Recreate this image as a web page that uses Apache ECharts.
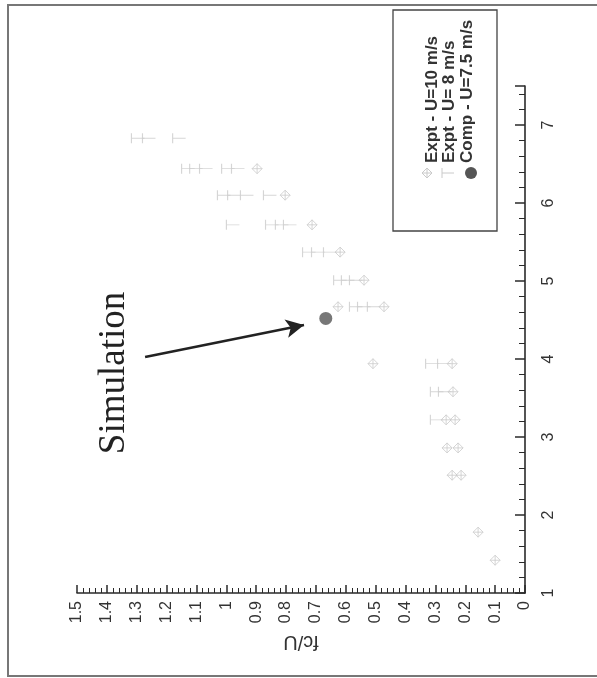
<!DOCTYPE html>
<html>
<head>
<meta charset="utf-8">
<script src="https://cdn.jsdelivr.net/npm/echarts@6/dist/echarts.min.js"></script>
<style>
html,body{margin:0;padding:0;background:#fff;}
#chart{width:597px;height:678px;}
</style>
</head>
<body>
<div id="chart"></div>
<script>
// X-variable (vertical axis in the rotated figure) and fc/U values
var u10X = [6.44, 6.10, 5.72, 5.37, 5.01, 4.67, 4.67, 3.94, 3.94, 3.58, 3.22, 3.22, 2.86, 2.86, 2.51, 2.51, 1.78, 1.42];
var u10F = [0.897, 0.803, 0.713, 0.619, 0.539, 0.626, 0.472, 0.509, 0.244, 0.241, 0.264, 0.234, 0.261, 0.224, 0.244, 0.214, 0.157, 0.100];
var u8X = [6.83, 6.83, 6.83, 6.44, 6.44, 6.44, 6.44, 6.44, 6.10, 6.10, 6.10, 6.10, 5.72, 5.72, 5.72, 5.72, 5.37, 5.37, 5.37, 5.01, 5.01, 5.01, 4.67, 4.67, 4.67, 3.94, 3.94, 3.58, 3.58, 3.22];
var u8F = [1.296, 1.259, 1.158, 1.128, 1.101, 1.068, 0.994, 0.961, 1.008, 0.974, 0.931, 0.854, 0.978, 0.847, 0.814, 0.787, 0.723, 0.693, 0.653, 0.619, 0.593, 0.566, 0.566, 0.539, 0.506, 0.311, 0.271, 0.295, 0.268, 0.295];
var compX = [4.52];
var compF = [0.667];
var seriesNames = ['Expt - U=10 m/s', 'Expt - U= 8 m/s', 'Comp - U=7.5 m/s'];
var fAxisName = 'fc/U';
var annotationText = 'Simulation';
var arrowFrom = [1.272, 4.026];
var arrowTo = [0.740, 4.436];

function zip(fs, xs) { return fs.map(function (f, i) { return [f, xs[i]]; }); }

var chart = echarts.init(document.getElementById('chart'), null, { renderer: 'canvas' });
var axisColor = '#2a2a2a';
var symColor = '#cacaca';
var labelFont = 'Liberation Sans';
var legendFont = 'bold 17px "Liberation Sans"';

var option = {
  backgroundColor: '#fff',
  animation: false,
  grid: { left: 77, right: 72, top: 86, bottom: 85 },
  xAxis: {
    type: 'value', min: 0, max: 1.5, interval: 0.1, inverse: true, position: 'bottom',
    name: fAxisName, nameLocation: 'middle', nameRotate: 180, nameGap: 36,
    nameTextStyle: { fontSize: 20, fontFamily: labelFont, color: '#333' },
    axisLine: { show: true, onZero: false, lineStyle: { color: axisColor, width: 1.6 } },
    axisTick: { show: true, inside: true, length: 8, lineStyle: { color: axisColor, width: 1.5 } },
    minorTick: { show: true, splitNumber: 5, length: 5, lineStyle: { color: axisColor, width: 1 } },
    axisLabel: { rotate: 90, margin: 8, fontSize: 16, fontFamily: labelFont, color: '#333' },
    splitLine: { show: false }, minorSplitLine: { show: false }
  },
  yAxis: {
    type: 'value', min: 1, max: 7.5, interval: 1, position: 'right',
    axisLine: { show: true, onZero: false, lineStyle: { color: axisColor, width: 1.6 } },
    axisTick: { show: true, inside: true, length: 10, lineStyle: { color: axisColor, width: 1.5 } },
    minorTick: { show: true, splitNumber: 5, length: 6, lineStyle: { color: axisColor, width: 1 } },
    axisLabel: {
      rotate: 90, margin: 16, fontSize: 16, fontFamily: labelFont, color: '#333',
      formatter: function (v) { return Math.abs(v - Math.round(v)) < 1e-6 ? String(Math.round(v)) : ''; }
    },
    splitLine: { show: false }
  },
  graphic: [
    { type: 'rect', z: -10, shape: { x: 8, y: 5, width: 610, height: 671 },
      style: { fill: 'none', stroke: '#777', lineWidth: 2 } },
    { type: 'text', x: 114, y: 373, rotation: Math.PI / 2,
      style: { text: annotationText, font: '37px "Liberation Serif"', fill: '#222', textAlign: 'center', textVerticalAlign: 'middle' } },
    { type: 'rect', shape: { x: 393, y: 10, width: 104, height: 221 },
      style: { fill: '#fff', stroke: '#444', lineWidth: 1.3 } },
    { type: 'text', x: 432, y: 163, rotation: Math.PI / 2,
      style: { text: seriesNames[0], font: legendFont, fill: '#333', textAlign: 'left', textVerticalAlign: 'middle' } },
    { type: 'text', x: 449, y: 163, rotation: Math.PI / 2,
      style: { text: seriesNames[1], font: legendFont, fill: '#333', textAlign: 'left', textVerticalAlign: 'middle' } },
    { type: 'text', x: 467, y: 163, rotation: Math.PI / 2,
      style: { text: seriesNames[2], font: legendFont, fill: '#333', textAlign: 'left', textVerticalAlign: 'middle' } },
    { type: 'polygon', shape: { points: [[427, 168], [432, 173], [427, 178], [422, 173]] },
      style: { fill: 'none', stroke: symColor, lineWidth: 1 } },
    { type: 'line', shape: { x1: 427, y1: 168, x2: 427, y2: 178 }, style: { stroke: symColor, lineWidth: 1 } },
    { type: 'line', shape: { x1: 422, y1: 173, x2: 432, y2: 173 }, style: { stroke: symColor, lineWidth: 1 } },
    { type: 'line', shape: { x1: 442, y1: 168, x2: 442, y2: 178 }, style: { stroke: symColor, lineWidth: 1 } },
    { type: 'line', shape: { x1: 442, y1: 173, x2: 454, y2: 173 }, style: { stroke: symColor, lineWidth: 1 } },
    { type: 'circle', shape: { cx: 471, cy: 173, r: 6 }, style: { fill: '#555' } }
  ],
  series: [
    {
      name: seriesNames[0], type: 'scatter', data: zip(u10F, u10X),
      symbol: 'path://M5,0L10,5L5,10L0,5Z M5,0L5,10 M0,5L10,5', symbolSize: 10,
      itemStyle: { color: 'rgba(0,0,0,0)', borderColor: symColor, borderWidth: 1 }
    },
    {
      name: seriesNames[1], type: 'scatter', data: zip(u8F, u8X),
      symbol: 'path://M0,0L0,10 M0,5L13,5', symbolSize: [13, 10],
      itemStyle: { color: 'rgba(0,0,0,0)', borderColor: symColor, borderWidth: 1 }
    },
    {
      name: seriesNames[2], type: 'scatter', data: zip(compF, compX),
      symbol: 'circle', symbolSize: 13, itemStyle: { color: '#555' },
      markLine: {
        silent: true, symbol: ['none', 'arrow'], symbolSize: [14, 18],
        label: { show: false },
        lineStyle: { color: '#222', width: 2.5, type: 'solid' },
        data: [[{ coord: arrowFrom }, { coord: arrowTo }]]
      }
    }
  ]
};
chart.setOption(option);
</script>
</body>
</html>
